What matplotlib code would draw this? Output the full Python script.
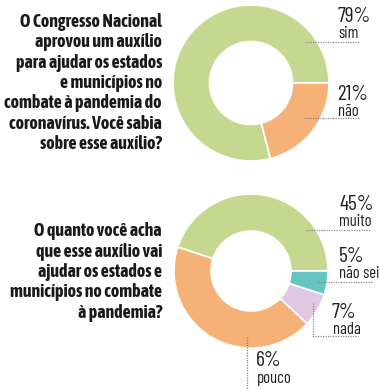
import matplotlib
matplotlib.use("Agg")
import matplotlib.pyplot as plt

W, H = 380, 391

# ---- data ----
q1_categories = ["sim", "não"]
q1_values = [79, 21]
q1_labels = ["79%", "21%"]

q2_categories = ["muito", "pouco", "nada", "não sei"]
q2_values = [45, 43, 7, 5]
q2_labels = ["45%", "6%", "7%", "5%"]

q1_text = ("O Congresso Nacional\naprovou um auxílio\npara ajudar os estados\n"
           "e municípios no\ncombate à pandemia do\ncoronavírus. Você sabia\n"
           "sobre esse auxílio?")
q2_text = ("O quanto você acha\nque esse auxílio vai\najudar os estados e\n"
           "municípios no combate\nà pandemia?")

# ---- styles ----
c_green = "#c6d88f"
c_orange = "#f5b176"
c_lilac = "#e0c7e2"
c_teal = "#66c4c3"
q1_colors = [c_green, c_orange]
q2_colors = [c_green, c_orange, c_lilac, c_teal]

qfont = "Asap Condensed"
lfont = "Barlow Condensed"

fig = plt.figure(figsize=(W / 100, H / 100), dpi=100)
ax = fig.add_axes([0, 0, 1, 1])

def Y(py):
    return H - py

R1, R2 = 78, 77
ax.pie(q1_values, colors=q1_colors, startangle=0, counterclock=True,
       center=(251, Y(83)), radius=R1,
       wedgeprops=dict(width=R1 - 41.5, edgecolor="white", linewidth=1.2), frame=True)
ax.pie(q2_values, colors=q2_colors, startangle=0, counterclock=True,
       center=(251, Y(271)), radius=R2,
       wedgeprops=dict(width=R2 - 40, edgecolor="white", linewidth=1.2), frame=True)

ax.set_xlim(0, W)
ax.set_ylim(0, H)
ax.set_aspect("equal")
ax.axis("off")

tkw = dict(family=qfont, fontweight="bold", fontsize=12.9, ha="right",
           va="center", linespacing=1.17, color="#1a1a1a")
ax.text(162, Y(83), q1_text, **tkw)
ax.text(162, Y(272), q2_text, **tkw)

pk = dict(family=lfont, fontweight="normal", fontsize=15.5, color="#222222", va="center", ha="left")
lk = dict(family=lfont, fontweight="normal", fontsize=12, color="#222222", va="center", ha="left")
dk = dict(color="#888888", linestyle=(0, (1, 1)), linewidth=0.9)

# q1 labels
ax.text(337, Y(16), q1_labels[0], **pk)
ax.text(338, Y(34), q1_categories[0], **lk)
ax.plot([305, 360], [Y(42), Y(42)], **dk)
ax.text(337, Y(94), q1_labels[1], **pk)
ax.text(338, Y(111), q1_categories[1], **lk)
ax.plot([305, 360], [Y(118), Y(118)], **dk)

# q2 labels
ax.text(339, Y(204), q2_labels[0], **pk)
ax.text(339, Y(222), q2_categories[0], **lk)
ax.plot([306, 370], [Y(230), Y(230)], **dk)

ax.text(339, Y(257), q2_labels[3], **pk)
ax.text(339, Y(274), q2_categories[3], **lk)
ax.plot([318, 372], [Y(282), Y(282)], **dk)

ax.text(332, Y(312), q2_labels[2], **pk)
ax.text(333, Y(329), q2_categories[2], **lk)
ax.plot([313, 313, 358], [Y(303), Y(336), Y(336)], **dk)

ax.text(256, Y(361), q2_labels[1], **pk)
ax.text(257, Y(378), q2_categories[1], **lk)
ax.plot([247, 247], [Y(337), Y(389)], **dk)

fig.savefig("out.png", dpi=100, facecolor="white")
